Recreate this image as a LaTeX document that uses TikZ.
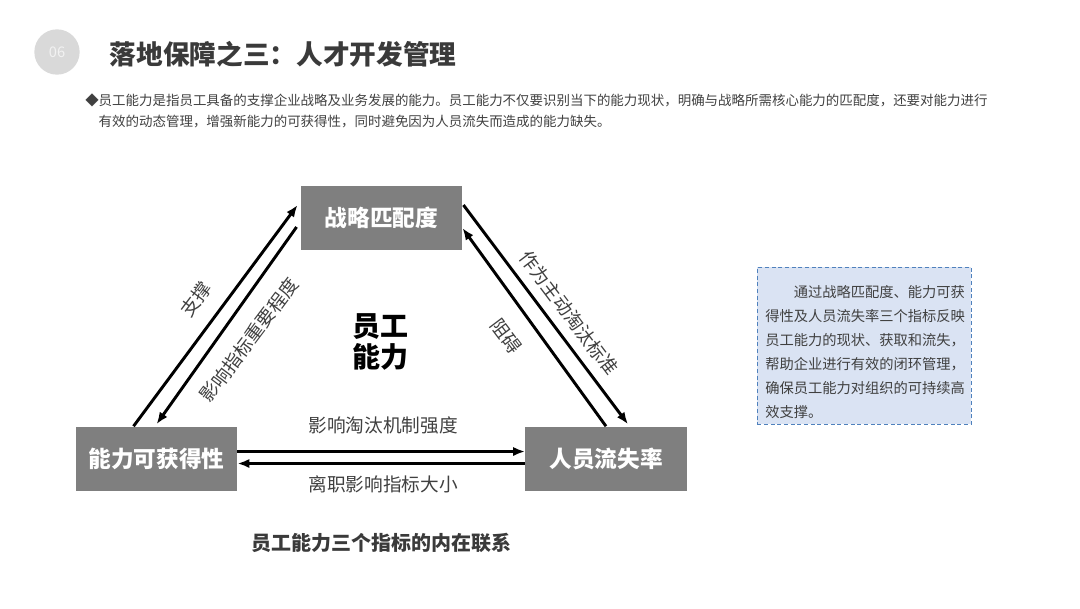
\documentclass[tikz,border=0pt]{standalone}
\usepackage{fontspec}
\setmainfont{Noto Sans CJK SC}
\usetikzlibrary{arrows.meta,positioning,calc}
\definecolor{boxgray}{HTML}{7F7F7F}
\definecolor{txtgray}{HTML}{404040}
\definecolor{titlegray}{HTML}{3A3A3A}
\definecolor{notefill}{HTML}{DAE3F3}
\definecolor{noteline}{HTML}{4F81BD}
\tikzset{
  metric/.style={fill=boxgray, text=white, font=\bfseries\fontsize{17}{20}\selectfont,
    minimum width=121pt, minimum height=48pt, inner sep=0pt},
  flow/.style={-{Latex[length=9pt,width=7pt]}, line width=2.2pt},
  lbl/.style={text=txtgray, font=\fontsize{14}{16}\selectfont, inner sep=1pt},
}
\begin{document}
\begin{tikzpicture}[x=0.75pt,y=-0.75pt]
  \useasboundingbox (0,0) rectangle (1080,608);

  % 标题
  \node[circle, fill=black!15, text=black!5, minimum size=34pt, inner sep=0pt,
    font=\fontsize{11}{12}\selectfont] (num) at (57,52) {06};
  \node[anchor=west, text=titlegray, font=\bfseries\fontsize{20}{24}\selectfont] (title)
    at (105,54) {落地保障之三：人才开发管理};
  \node[anchor=north west, align=left, inner sep=0pt, text=txtgray,
    font=\fontsize{10.1}{15.75}\selectfont] (intro) at (85,94)
    {◆员工能力是指员工具备的支撑企业战略及业务发展的能力。员工能力不仅要识别当下的能力现状，明确与战略所需核心能力的匹配度，还要对能力进行\\
     \phantom{◆}有效的动态管理，增强新能力的可获得性，同时避免因为人员流失而造成的能力缺失。};

  % 三个指标
  \node[metric] (strat) at (381.5,218) {战略匹配度};
  \node[metric] (avail) at (156.5,458.5) {能力可获得性};
  \node[metric] (loss) at (606,458.5) {人员流失率};
  \node[align=center, font=\bfseries\fontsize{21}{23.5}\selectfont] (core) at (380,342) {员工\\能力};

  % 相互关系
  \draw[flow] ($(avail.north)+(-23,0)$) -- ($(strat.west)+(-3,-13)$);
  \draw[flow] ($(strat.west)+(-4,9)$) -- ($(avail.north)+(0,-2)$);
  \draw[flow] ($(strat.east)+(1,-13)$) -- ($(loss.north)+(22,-2)$);
  \draw[flow] ($(loss.north)+(0,0)$) -- ($(strat.east)+(0,10)$);
  \draw[flow] ($(avail.east)+(0,-7)$) -- ($(loss.west)+(0,-7)$);
  \draw[flow] ($(loss.west)+(0,5)$) -- ($(avail.east)+(0,5)$);

  \node[lbl, rotate=53] (support) at (196,299) {支撑};
  \node[lbl, rotate=53] (weight) at (249,340) {影响指标重要程度};
  \node[lbl, rotate=-53] (standard) at (569,313) {作为主动淘汰标准};
  \node[lbl, rotate=-53] (hinder) at (506,336) {阻碍};
  \node[lbl] (strength) at (383,425) {影响淘汰机制强度};
  \node[lbl] (quit) at (383,484) {离职影响指标大小};

  \node[text=titlegray, font=\bfseries\fontsize{15}{18}\selectfont] (caption) at (381,543)
    {员工能力三个指标的内在联系};

  % 说明框
  \node[draw=noteline, densely dashed, fill=notefill, anchor=north west,
    minimum width=160.5pt, minimum height=117.75pt, inner sep=0pt] (note) at (757,267) {};
  \node[anchor=west, align=left, inner sep=0pt, text=txtgray,
    font=\fontsize{10.7}{18}\selectfont] (notetext) at ($(note.west)+(8,6)$)
    {\hspace*{2em}通过战略匹配度、能力可获\\
     得性及人员流失率三个指标反映\\
     员工能力的现状、获取和流失，\\
     帮助企业进行有效的闭环管理，\\
     确保员工能力对组织的可持续高\\
     效支撑。};
\end{tikzpicture}
\end{document}
